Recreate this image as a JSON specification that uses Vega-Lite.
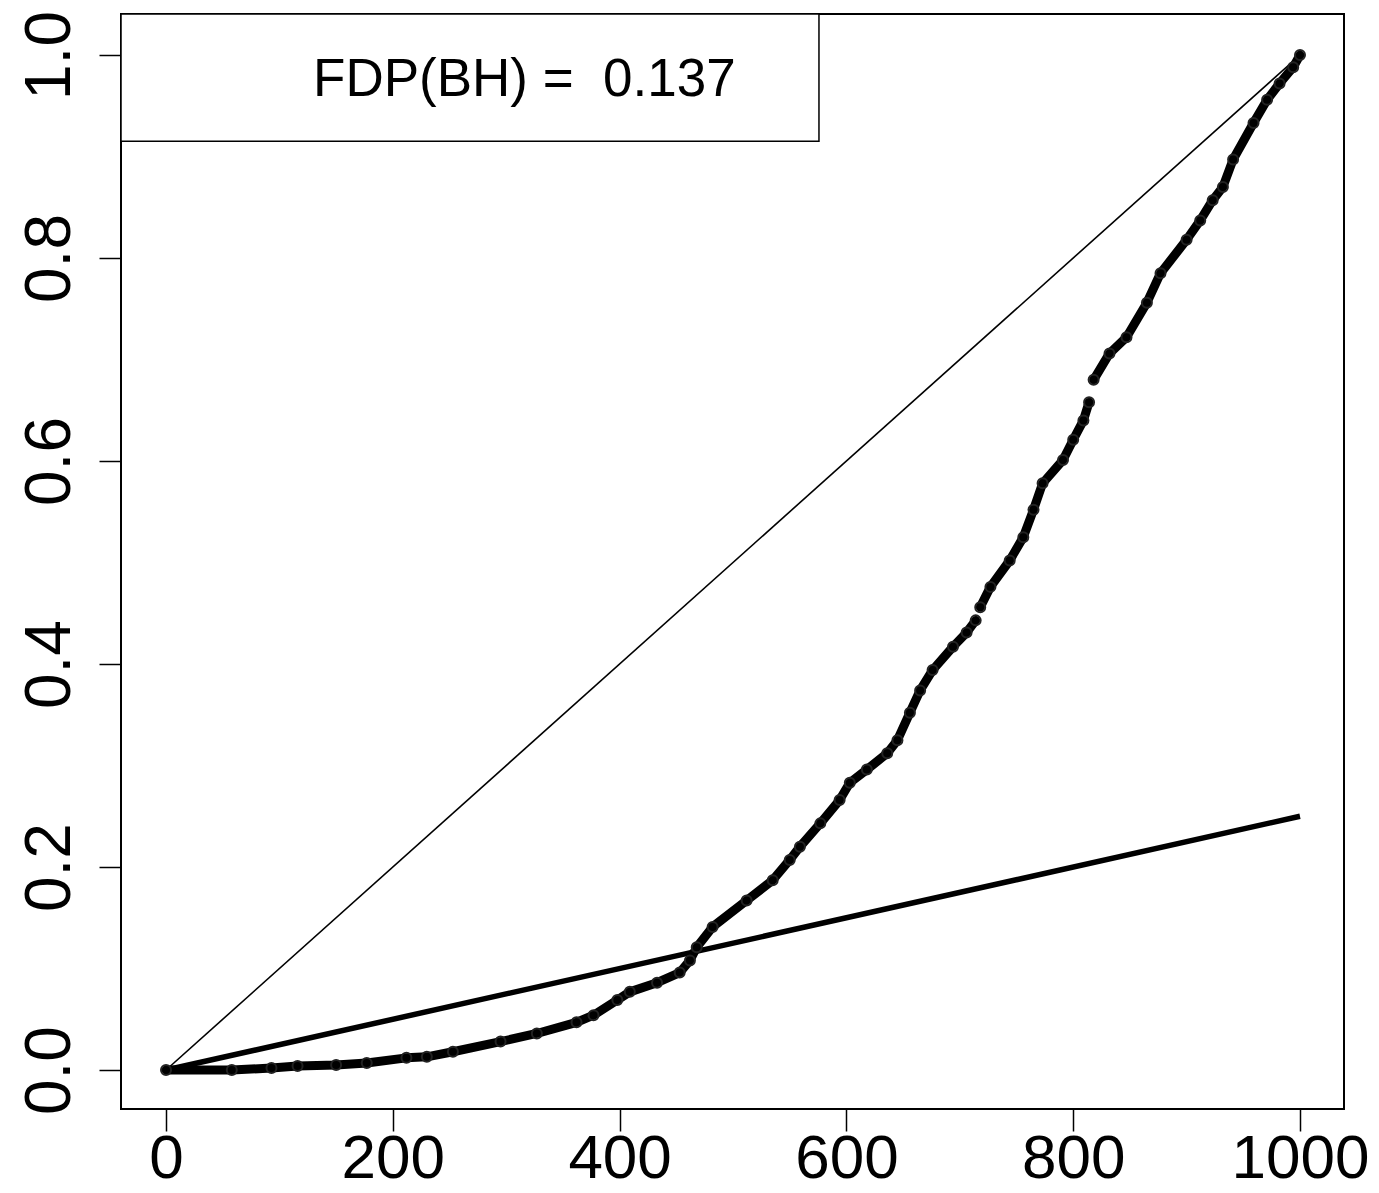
{
  "$schema": "https://vega.github.io/schema/vega-lite/v6.json",
  "width": 1223,
  "height": 1095,
  "autosize": {"type": "none"},
  "padding": {"left": 121, "top": 14, "right": 35, "bottom": 84},
  "background": "white",
  "config": {
    "view": {"stroke": "black", "strokeWidth": 2},
    "font": "Liberation Sans",
    "axis": {
      "domain": false,
      "grid": false,
      "ticks": true,
      "tickColor": "black",
      "tickWidth": 1.5,
      "tickSize": 22,
      "labelColor": "black",
      "labelFont": "Liberation Sans",
      "labelFontSize": 64,
      "title": null
    }
  },
  "datasets": {
    "curve": [
      {"rank": 0, "p": 0.0, "seg": 1},
      {"rank": 58, "p": 0.0, "seg": 1},
      {"rank": 93, "p": 0.002, "seg": 1},
      {"rank": 116, "p": 0.004, "seg": 1},
      {"rank": 150, "p": 0.005, "seg": 1},
      {"rank": 177, "p": 0.007, "seg": 1},
      {"rank": 212, "p": 0.012, "seg": 1},
      {"rank": 230, "p": 0.013, "seg": 1},
      {"rank": 253, "p": 0.018, "seg": 1},
      {"rank": 295, "p": 0.028, "seg": 1},
      {"rank": 327, "p": 0.036, "seg": 1},
      {"rank": 362, "p": 0.047, "seg": 1},
      {"rank": 377, "p": 0.054, "seg": 1},
      {"rank": 398, "p": 0.069, "seg": 1},
      {"rank": 409, "p": 0.077, "seg": 1},
      {"rank": 433, "p": 0.086, "seg": 1},
      {"rank": 453, "p": 0.096, "seg": 1},
      {"rank": 462, "p": 0.108, "seg": 1},
      {"rank": 468, "p": 0.121, "seg": 1},
      {"rank": 482, "p": 0.141, "seg": 1},
      {"rank": 512, "p": 0.167, "seg": 1},
      {"rank": 535, "p": 0.187, "seg": 1},
      {"rank": 550, "p": 0.207, "seg": 1},
      {"rank": 559, "p": 0.22, "seg": 1},
      {"rank": 577, "p": 0.243, "seg": 1},
      {"rank": 594, "p": 0.266, "seg": 1},
      {"rank": 603, "p": 0.283, "seg": 1},
      {"rank": 618, "p": 0.296, "seg": 1},
      {"rank": 636, "p": 0.312, "seg": 1},
      {"rank": 645, "p": 0.325, "seg": 1},
      {"rank": 656, "p": 0.352, "seg": 1},
      {"rank": 665, "p": 0.374, "seg": 1},
      {"rank": 676, "p": 0.394, "seg": 1},
      {"rank": 694, "p": 0.417, "seg": 1},
      {"rank": 706, "p": 0.431, "seg": 1},
      {"rank": 714, "p": 0.443, "seg": 1},
      {"rank": 718, "p": 0.456, "seg": 2},
      {"rank": 727, "p": 0.476, "seg": 2},
      {"rank": 744, "p": 0.502, "seg": 2},
      {"rank": 756, "p": 0.525, "seg": 2},
      {"rank": 765, "p": 0.552, "seg": 2},
      {"rank": 773, "p": 0.578, "seg": 2},
      {"rank": 791, "p": 0.601, "seg": 2},
      {"rank": 800, "p": 0.621, "seg": 2},
      {"rank": 809, "p": 0.64, "seg": 2},
      {"rank": 814, "p": 0.658, "seg": 2},
      {"rank": 818, "p": 0.68, "seg": 3},
      {"rank": 832, "p": 0.706, "seg": 3},
      {"rank": 847, "p": 0.722, "seg": 3},
      {"rank": 865, "p": 0.756, "seg": 3},
      {"rank": 877, "p": 0.785, "seg": 3},
      {"rank": 900, "p": 0.818, "seg": 3},
      {"rank": 912, "p": 0.837, "seg": 3},
      {"rank": 923, "p": 0.857, "seg": 3},
      {"rank": 932, "p": 0.87, "seg": 3},
      {"rank": 941, "p": 0.897, "seg": 3},
      {"rank": 959, "p": 0.933, "seg": 3},
      {"rank": 971, "p": 0.956, "seg": 3},
      {"rank": 982, "p": 0.972, "seg": 3},
      {"rank": 994, "p": 0.988, "seg": 3},
      {"rank": 1000, "p": 1.0, "seg": 3}
    ],
    "diag": [{"rank": 0, "p": 0}, {"rank": 1000, "p": 1}],
    "bh": [{"rank": 0, "p": 0}, {"rank": 1000, "p": 0.25}],
    "legend": [{"x1": -39.7, "x2": 575.8, "y1": 0.915, "y2": 1.0404, "tx": 316, "ty": 0.975, "label": "FDP(BH) = \u00a00.137"}]
  },
  "encoding": {
    "x": {
      "field": "rank", "type": "quantitative",
      "scale": {"domain": [-39.7, 1038.8], "nice": false, "zero": false},
      "axis": {"values": [0, 200, 400, 600, 800, 1000], "format": "d", "labelPadding": 46, "labelBaseline": "alphabetic", "labelFontSize": 62}
    },
    "y": {
      "field": "p", "type": "quantitative",
      "scale": {"domain": [-0.0384, 1.0404], "nice": false, "zero": false},
      "axis": {"values": [0, 0.2, 0.4, 0.6, 0.8, 1.0], "format": ".1f", "labelAngle": -90, "labelAlign": "center", "labelBaseline": "alphabetic", "labelPadding": 30}
    }
  },
  "layer": [
    {
      "data": {"name": "diag"},
      "mark": {"type": "line", "color": "black", "strokeWidth": 1.6}
    },
    {
      "data": {"name": "bh"},
      "mark": {"type": "line", "color": "black", "strokeWidth": 5.5}
    },
    {
      "data": {"name": "curve"},
      "mark": {"type": "line", "color": "black", "strokeWidth": 9, "strokeCap": "round", "strokeJoin": "round"},
      "encoding": {"detail": {"field": "seg", "type": "nominal"}}
    },
    {
      "data": {"name": "curve"},
      "mark": {"type": "point", "shape": "circle", "filled": false, "color": "#222222", "strokeWidth": 2, "size": 100, "opacity": 1}
    },
    {
      "data": {"name": "legend"},
      "mark": {"type": "rect", "fill": "white", "stroke": "black", "strokeWidth": 1.5},
      "encoding": {
        "x": {"field": "x1", "type": "quantitative"},
        "x2": {"field": "x2"},
        "y": {"field": "y1", "type": "quantitative"},
        "y2": {"field": "y2"}
      }
    },
    {
      "data": {"name": "legend"},
      "mark": {"type": "text", "font": "Liberation Sans", "fontSize": 53, "color": "black", "align": "center", "baseline": "middle"},
      "encoding": {
        "x": {"field": "tx", "type": "quantitative"},
        "y": {"field": "ty", "type": "quantitative"},
        "text": {"field": "label"}
      }
    }
  ]
}
